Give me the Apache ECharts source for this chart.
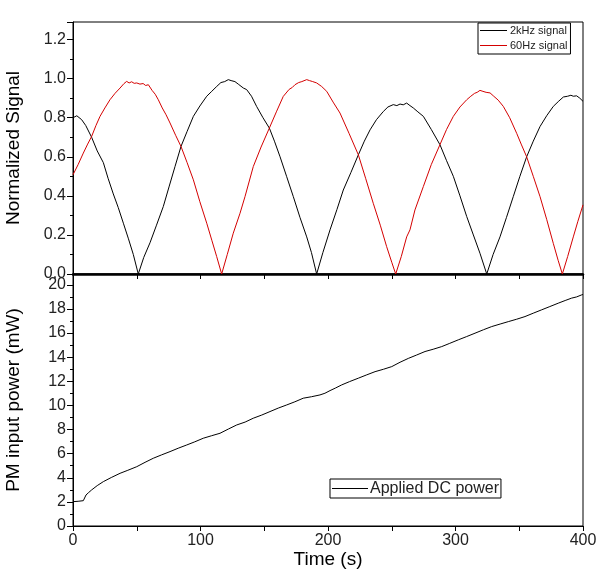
<!DOCTYPE html>
<html>
<head>
<meta charset="utf-8">
<script src="https://cdn.jsdelivr.net/npm/echarts@6/dist/echarts.min.js"></script>
<style>html,body{margin:0;padding:0;background:#fff}#c{width:603px;height:580px}</style>
</head>
<body>
<div id="c"></div>
<script>
// ---- data (time in s) ----
const timeTicks = [0, 100, 200, 300, 400];
const signalTicks = ['0.0','0.2','0.4','0.6','0.8','1.0','1.2'];
const powerTicks = [0,2,4,6,8,10,12,14,16,18,20];

const sig2kHz = [[0,0.80],[3,0.81],[6.8,0.79],[10,0.76],[14.6,0.70],[19,0.63],[23.8,0.57],[27.5,0.49],[31.6,0.41],[35.5,0.34],[39.5,0.26],[43.5,0.18],[47.3,0.10],[51.2,0],[55.5,0.085],[60.4,0.16],[65.5,0.25],[70.8,0.345],[75.5,0.45],[80,0.55],[84.7,0.653],[89.5,0.73],[94.4,0.807],[99.5,0.86],[104.9,0.91],[108.8,0.935],[112.7,0.96],[116,0.98],[119,0.985],[121.8,0.995],[124,0.99],[127,0.985],[130,0.97],[133.6,0.952],[136.2,0.944],[140,0.91],[144,0.858],[149,0.80],[154,0.747],[158,0.68],[162.4,0.60],[167.5,0.50],[172.8,0.396],[178,0.29],[183.3,0.19],[187,0.11],[191.1,0],[196,0.11],[201.6,0.226],[207,0.33],[212,0.43],[218,0.52],[223.8,0.61],[228.5,0.68],[233,0.738],[238,0.79],[243.4,0.832],[247,0.855],[251.2,0.867],[254,0.862],[256.5,0.87],[259,0.866],[261.7,0.875],[264.3,0.862],[266.9,0.85],[270.5,0.83],[274.8,0.807],[281,0.74],[287.8,0.662],[293,0.58],[298.3,0.50],[303.5,0.40],[308.8,0.294],[314,0.20],[319.2,0.106],[324.5,0],[329.5,0.10],[334.9,0.19],[340,0.29],[345.3,0.396],[350.5,0.50],[355.8,0.60],[361,0.68],[366.3,0.755],[371.5,0.81],[376.7,0.858],[381,0.885],[384.6,0.906],[388,0.91],[390.5,0.915],[392.4,0.91],[395,0.912],[397.5,0.90],[400,0.884]];

const sig60Hz = [[0,0.508],[4,0.56],[8.1,0.619],[11.5,0.665],[14.6,0.704],[18,0.76],[21.2,0.807],[25,0.85],[29,0.892],[33,0.925],[36.9,0.952],[40,0.975],[42.1,0.986],[44,0.978],[46,0.984],[48,0.976],[50,0.978],[52.5,0.972],[55,0.975],[57,0.965],[59.1,0.969],[62,0.94],[64.5,0.92],[66.9,0.892],[70,0.85],[73,0.815],[76.1,0.773],[80.5,0.71],[84.7,0.653],[89.5,0.57],[94.4,0.482],[99.5,0.37],[104.9,0.26],[109,0.17],[112.7,0.089],[116.6,0],[121,0.10],[125.7,0.209],[131,0.311],[134.9,0.396],[141.4,0.55],[147.5,0.65],[154,0.747],[159.5,0.83],[164.9,0.909],[169.5,0.945],[172,0.955],[174.1,0.969],[177,0.98],[179.5,0.985],[181,0.99],[183.3,0.995],[185.5,0.99],[188,0.985],[191.1,0.978],[195,0.96],[199,0.935],[204,0.88],[209.4,0.824],[216.5,0.72],[223.8,0.61],[229.5,0.49],[235.5,0.362],[241,0.25],[246,0.14],[250,0.06],[253.1,0],[257.5,0.09],[261.7,0.19],[264.3,0.226],[268.2,0.328],[274.8,0.448],[281,0.56],[287.8,0.662],[293,0.74],[298.3,0.807],[303.5,0.855],[308.8,0.892],[312,0.91],[315,0.925],[317,0.93],[319.2,0.94],[321.5,0.935],[324,0.93],[327.1,0.927],[330,0.91],[333.5,0.89],[337.5,0.858],[342.5,0.80],[348,0.72],[351.5,0.665],[355.8,0.60],[361,0.50],[366.3,0.396],[371.5,0.28],[376.7,0.157],[380.5,0.07],[383.8,0],[388,0.09],[392.4,0.19],[396,0.27],[400,0.354]];

const dcPower = [[0,2.02],[4,2.05],[8.1,2.1],[9.5,2.15],[10.2,2.57],[12,2.75],[14.6,2.99],[19,3.35],[23.8,3.68],[30,4.02],[36.9,4.37],[43,4.62],[50,4.92],[56.5,5.28],[63,5.62],[69.5,5.9],[76.1,6.17],[82.5,6.45],[89.2,6.72],[95.5,6.98],[102.2,7.28],[108.5,7.48],[115.3,7.69],[122,8.05],[128.4,8.38],[135,8.62],[141.4,8.94],[148,9.2],[154.5,9.49],[161,9.78],[167.6,10.04],[174,10.3],[180.6,10.6],[187,10.72],[193.7,10.87],[197.6,11.01],[201.6,11.23],[206,11.45],[210.7,11.7],[217,11.98],[223.8,12.26],[230,12.52],[236.9,12.8],[243.5,13.0],[250,13.22],[256.5,13.58],[263,13.9],[269.5,14.18],[276.1,14.47],[282.5,14.66],[289.2,14.88],[295.5,15.15],[302.2,15.44],[308.5,15.7],[315.3,15.99],[322,16.28],[328.4,16.54],[335,16.75],[341.4,16.95],[348,17.15],[354.5,17.37],[361,17.65],[367.6,17.93],[374,18.2],[380.6,18.48],[386,18.7],[391.1,18.9],[395,19.0],[399,19.17],[400,19.2]];

const FONT = 'Liberation Sans, Arial, sans-serif';
const chart = echarts.init(document.getElementById('c'), null, {renderer: 'canvas'});

const yCommon = {
  type: 'value',
  splitLine: {show: false},
  axisLine: {show: true, lineStyle: {color: '#000', width: 1}},
  axisTick: {show: true, inside: false, length: 6, lineStyle: {color: '#000'}},
  minorTick: {show: true, splitNumber: 2, length: 3, lineStyle: {color: '#000'}},
  axisLabel: {color: '#222', fontFamily: FONT, fontSize: 16, margin: 7, showMaxLabel: false},
  nameLocation: 'middle',
  nameGap: 50,
  nameTextStyle: {color: '#000', fontFamily: FONT, fontSize: 19}
};

chart.setOption({
  animation: false,
  backgroundColor: '#fff',
  grid: [
    {left: 73, top: 22, width: 510, height: 252, show: true, borderColor: '#000', borderWidth: 1, containLabel: false, outerBoundsMode: 'none'},
    {left: 73, top: 274, width: 510, height: 252, show: true, borderColor: '#000', borderWidth: 1, containLabel: false, outerBoundsMode: 'none'}
  ],
  legend: [
    {
      data: [{name: '2kHz signal', icon: 'rect'}, {name: '60Hz signal', icon: 'rect'}],
      orient: 'vertical', left: 478, top: 23,
      itemWidth: 27, itemHeight: 1, itemGap: 4,
      padding: [2, 3, 3, 2],
      borderColor: '#000', borderWidth: 1, borderRadius: 0,
      textStyle: {fontFamily: FONT, fontSize: 11, color: '#222', padding: [0, 0, 0, -2], lineHeight: 10}
    },
    {
      data: [{name: 'Applied DC power', icon: 'rect'}],
      orient: 'horizontal', left: 330, top: 479,
      itemWidth: 36, itemHeight: 1, itemGap: 0,
      padding: [1, 2, 1, 2],
      borderColor: '#000', borderWidth: 1, borderRadius: 0,
      textStyle: {fontFamily: FONT, fontSize: 16, color: '#222', padding: [0, 0, 0, -3], lineHeight: 17}
    }
  ],
  xAxis: [
    {
      type: 'value', gridIndex: 0, min: 0, max: 400, interval: 100,
      splitLine: {show: false},
      axisLine: {show: true, onZero: false, lineStyle: {color: '#000', width: 2.5}},
      axisTick: {show: true, inside: false, length: 5, lineStyle: {color: '#000'}},
      minorTick: {show: true, splitNumber: 2, length: 5, lineStyle: {color: '#000'}},
      axisLabel: {show: false}
    },
    {
      type: 'value', gridIndex: 1, min: 0, max: 400, interval: 100,
      splitLine: {show: false},
      axisLine: {show: true, onZero: false, lineStyle: {color: '#000', width: 1}},
      axisTick: {show: true, inside: false, length: 5, lineStyle: {color: '#000'}},
      minorTick: {show: true, splitNumber: 2, length: 5, lineStyle: {color: '#000'}},
      axisLabel: {color: '#222', fontFamily: FONT, fontSize: 16, margin: 7,
        formatter: v => timeTicks.includes(v) ? String(v) : ''},
      name: 'Time (s)', nameLocation: 'middle', nameGap: 15,
      nameTextStyle: {color: '#000', fontFamily: FONT, fontSize: 19}
    }
  ],
  yAxis: [
    Object.assign({}, yCommon, {
      gridIndex: 0, min: 0, max: 1.29, interval: 0.2,
      name: 'Normalized Signal',
      axisLabel: Object.assign({}, yCommon.axisLabel, {
        formatter: v => { const s = v.toFixed(1); return signalTicks.includes(s) ? s : ''; }
      })
    }),
    Object.assign({}, yCommon, {
      gridIndex: 1, min: 0, max: 20.9, interval: 2,
      name: 'PM input power (mW)',
      axisLabel: Object.assign({}, yCommon.axisLabel, {
        formatter: v => powerTicks.includes(v) ? String(v) : ''
      })
    })
  ],
  series: [
    {name: '2kHz signal', type: 'line', xAxisIndex: 0, yAxisIndex: 0, data: sig2kHz,
     symbol: 'none', lineStyle: {color: '#000', width: 1}, itemStyle: {color: '#000'}},
    {name: '60Hz signal', type: 'line', xAxisIndex: 0, yAxisIndex: 0, data: sig60Hz,
     symbol: 'none', lineStyle: {color: '#d40000', width: 1}, itemStyle: {color: '#d40000'}},
    {name: 'Applied DC power', type: 'line', xAxisIndex: 1, yAxisIndex: 1, data: dcPower,
     symbol: 'none', lineStyle: {color: '#000', width: 1}, itemStyle: {color: '#000'}}
  ]
});
</script>
</body>
</html>
